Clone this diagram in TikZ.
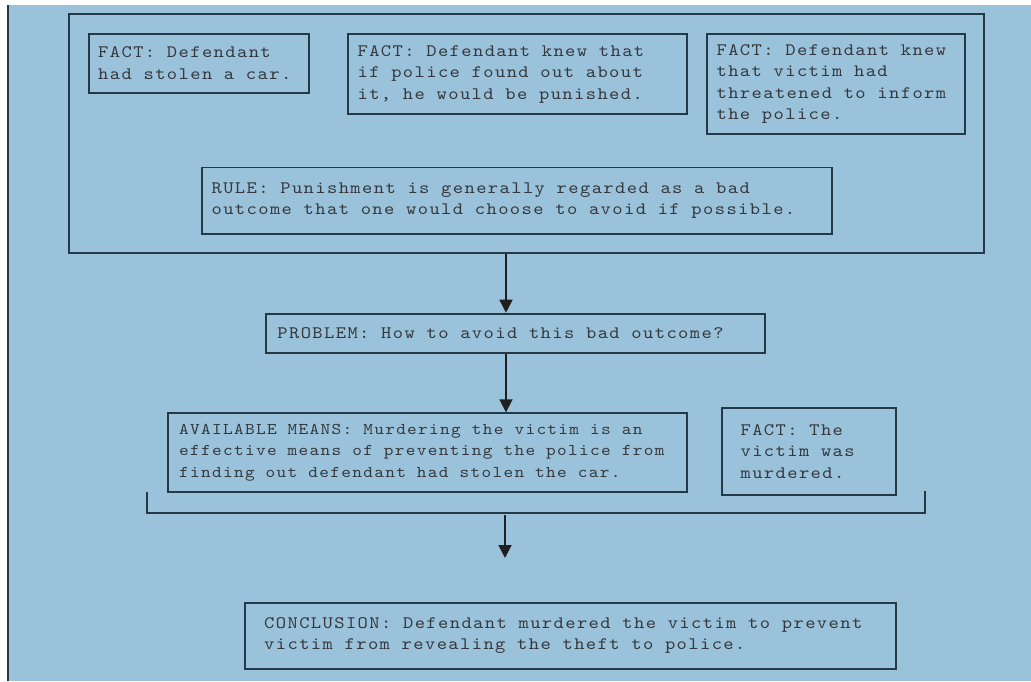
\documentclass[tikz,border=0pt]{standalone}
\usepackage{fontspec}
\newfontfamily\boxfont{lmmono10-regular.otf}[FakeStretch=1.12,LetterSpace=8]
\usetikzlibrary{arrows.meta}
\definecolor{bg}{RGB}{155,194,219}
\definecolor{edge}{RGB}{36,56,70}
\definecolor{ink}{RGB}{52,56,60}
\begin{document}
\begin{tikzpicture}[x=1pt,y=-1pt,
  box/.style={draw=edge, line width=1.8pt, anchor=north west, inner xsep=10pt,
    inner ysep=0pt, align=flush left, text=ink,
    font=\boxfont\fontsize{17.5}{21.5}\selectfont,
    execute at begin node={\spaceskip=11.7pt\relax\xspaceskip=11.7pt\relax}},
  smallbox/.style={box, inner xsep=11.5pt, font=\boxfont\fontsize{16.45}{21.5}\selectfont,
    execute at begin node={\spaceskip=11pt\relax\xspaceskip=11pt\relax}},
  frame/.style={draw=edge, line width=1.8pt, anchor=north west, inner sep=0pt},
  arr/.style={draw=black!88, line width=1.8pt, -{Triangle[length=13pt,width=13pt]}},
  bracket/.style={draw=edge, line width=1.8pt}]
\useasboundingbox (0,0) rectangle (1031,681);
\fill[white] (0,0) rectangle (1031,681);
\fill[bg] (7,5) rectangle (1031,681);
\draw[edge, line width=1.5pt] (7.75,5) -- (7.75,681);

% outer frame
\node[frame, minimum width=915.6pt, minimum height=238.4pt] (outer) at (67.7,13.3) {};

% facts
\node[box, minimum width=219.4pt, minimum height=59pt, inner xsep=9pt, text width=201.4pt] (f1) at (88.3,32.7)
  {FACT: Defendant\\had stolen a car.};
\node[box, minimum width=339pt, minimum height=80.3pt, text width=319pt] (f2) at (346.7,33)
  {FACT: Defendant knew that\\if police found out about\\it, he would be punished.};
\node[box, minimum width=258.3pt, minimum height=100.3pt, text width=238.3pt] (f3) at (705.7,33)
  {FACT: Defendant knew\\that victim had\\threatened to inform\\the police.};
\node[box, minimum width=630pt, minimum height=66.2pt, text width=610pt] (rule) at (200.7,166.5)
  {RULE: Punishment is generally regarded as a bad\\outcome that one would choose to avoid if possible.};

% problem
\node[box, minimum width=499.3pt, minimum height=39.6pt, inner xsep=11.5pt, text width=476.3pt] (prob) at (265,312.7)
  {PROBLEM: How to avoid this bad outcome?};

% means and fact
\node[smallbox, minimum width=519.3pt, minimum height=78.7pt, text width=496.3pt] (means) at (166.7,412.3)
  {AVAILABLE MEANS: Murdering the victim is an\\effective means of preventing the police from\\finding out defendant had stolen the car.};
\node[box, minimum width=174.3pt, minimum height=87.6pt, inner xsep=19pt, text width=136.3pt] (f4) at (720.7,406.7)
  {FACT: The\\victim was\\murdered.};

% conclusion
\node[box, minimum width=650.7pt, minimum height=66pt, inner xsep=19pt, text width=612.7pt] (concl) at (244.3,601.7)
  {CONCLUSION: Defendant murdered the victim to prevent\\victim from revealing the theft to police.};

% connectors
\coordinate (ax) at (506,0);
\draw[arr] (outer.south -| ax) -- (prob.north -| ax);
\draw[arr] (prob.south -| ax) -- (means.north -| ax);

\coordinate (bl) at (147.3,491.7);
\coordinate (br) at (925,491);
\coordinate (bb) at (0,512.7);
\draw[bracket] (bl) -- (bl |- bb) -- (br |- bb) -- (br);

\coordinate (a3s) at (505,515);
\coordinate (a3e) at (505,558);
\draw[arr] (a3s) -- (a3e);
\end{tikzpicture}
\end{document}
